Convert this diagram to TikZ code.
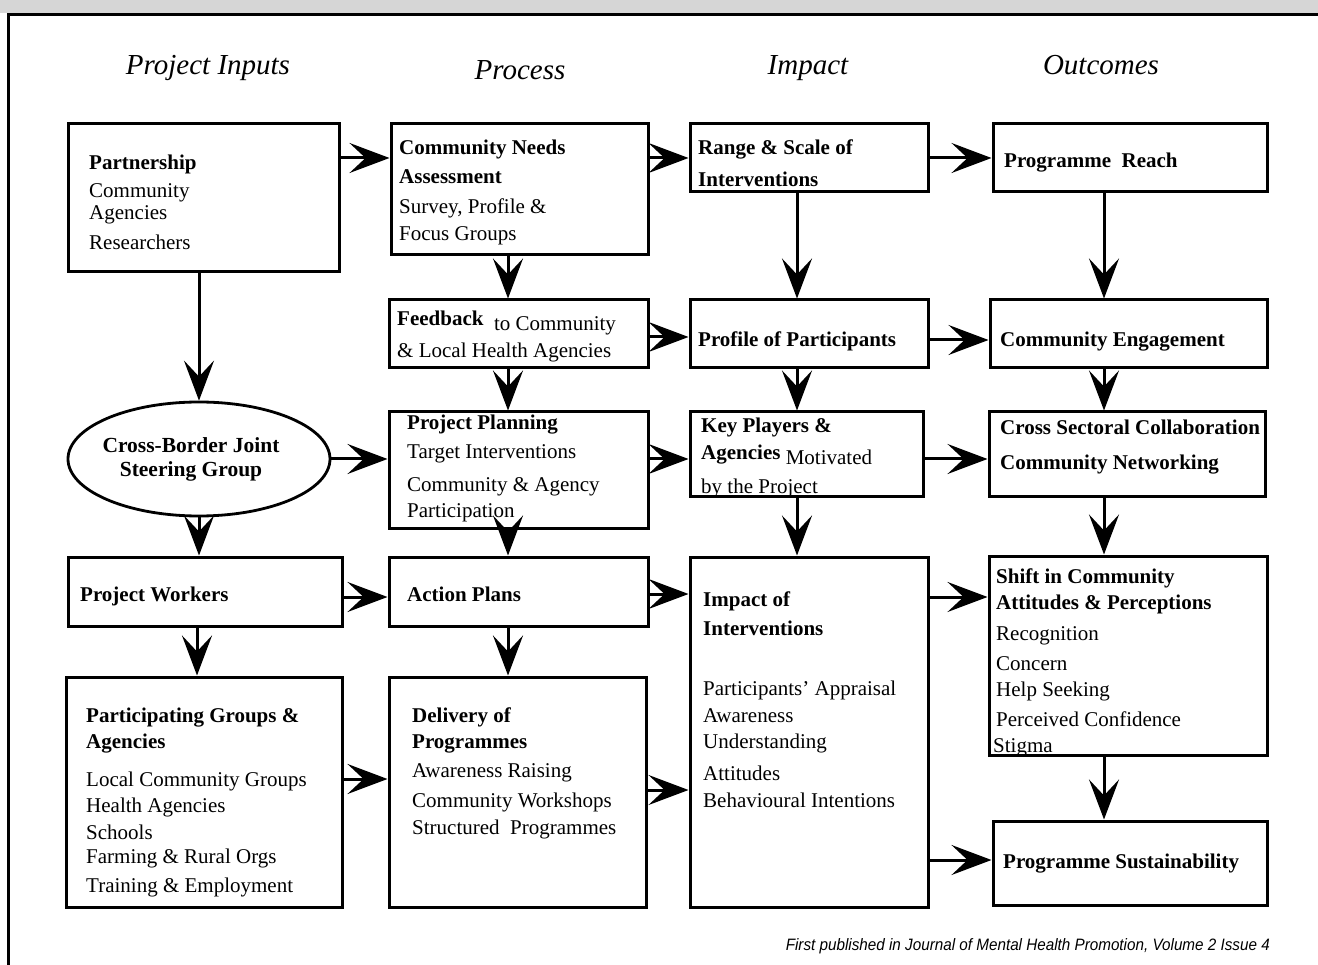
\documentclass[tikz,border=0pt]{standalone}
\usepackage{fontspec}
\setmainfont{Liberation Serif}
\newfontfamily\footfont{Liberation Sans}
\usepackage{graphicx}
\usetikzlibrary{arrows.meta,shapes.geometric}
\newcommand\tb[1]{\begin{tabular}[t]{@{}l@{}}#1\end{tabular}}
\newcommand\mybox[5]{\node[box, minimum width={#4-#2}, minimum height={#5-#3}] (#1) at ({(#2+#4)/2},{(#3+#5)/2}) {};}
\tikzset{
  box/.style={draw, rectangle, line width=3pt, fill=white, inner sep=0pt},
  txt/.style={anchor=base west, inner sep=0pt, font=\fontsize{21}{22}\selectfont},
  hdr/.style={anchor=base, inner sep=0pt, font=\fontsize{29}{30}\selectfont\itshape},
  arr/.style={line width=3pt, -{Stealth[length=40pt,width=30pt,inset=16pt]}},
}
\begin{document}
\begin{tikzpicture}[x=1pt,y=-1pt]
\useasboundingbox (0,0) rectangle (1318,965);
\fill[fill={rgb,255:red,214;green,214;blue,214}] (0,0) rectangle (1318,13);
\draw[line width=3pt] (7,15) -- (1318,15);
\draw[line width=2.5pt] (8.5,14) -- (8.5,965);

% headers
\node[hdr] (h1) at (208,75) {Project Inputs};
\node[hdr] (h2) at (520,80) {Process};
\node[hdr] (h3) at (808,75) {Impact};
\node[hdr] (h4) at (1101,75) {Outcomes};

% column 1
\mybox{pa}{68}{124}{339}{272}
\node[txt] (pat) at (89,170) {\tb{\textbf{Partnership}\\[6pt] Community\\ Agencies\\[8pt] Researchers}};
\node[draw, ellipse, line width=2.8pt, fill=white, minimum width=262, minimum height=114, inner sep=0pt] (sg) at (199,459) {};
\node[inner sep=0pt, align=center, font=\fontsize{21.5}{24}\selectfont\bfseries] (sgt) at (191,459) {Cross-Border Joint\\Steering Group};
\mybox{pw}{68}{557}{342}{626}
\node[txt] (pwt) at (80,601) {\textbf{Project Workers}};
\mybox{pg}{66}{677}{342}{907}
\node[txt] (pgt) at (86,722) {\tb{\textbf{Participating Groups \&}\\[4pt] \textbf{Agencies}\\[16pt] Local Community Groups\\[4pt] Health Agencies\\[5pt] Schools\\[2pt] Farming \& Rural Orgs\\[7pt] Training \& Employment}};

% column 2
\mybox{cna}{391}{124}{648}{255}
\node[txt] (cnat) at (399,155) {\tb{\textbf{Community Needs}\\[7pt] \textbf{Assessment}\\[8pt] Survey, Profile \&\\[5pt] Focus Groups}};
\mybox{fb}{389}{300}{648}{368}
\node[txt] (fbt) at (397,326) {\tb{\textbf{Feedback}\ \ \raisebox{-5pt}[0pt][0pt]{to Community}\\[10pt] \& Local Health Agencies}};
\mybox{pp}{389}{412}{648}{528}
\node[txt] (ppt) at (407,430) {\tb{\textbf{Project Planning}\\[7pt] Target Interventions\\[11pt] Community \& Agency\\[4pt] Participation}};
\mybox{ap}{389}{557}{648}{626}
\node[txt] (apt) at (407,601) {\textbf{Action Plans}};
\mybox{dp}{389}{677}{646}{907}
\node[txt] (dpt) at (412,722) {\tb{\textbf{Delivery of}\\[4pt] \textbf{Programmes}\\[7pt] Awareness Raising\\[8pt] Community Workshops\\[5pt] Structured\ \ Programmes}};

% column 3
\mybox{rs}{690}{124}{928}{192}
\node[txt] (rst) at (698,155) {\tb{\textbf{Range \& Scale of}\\[10pt] \textbf{Interventions}}};
\mybox{pr}{690}{300}{928}{368}
\node[txt] (prt) at (698,347) {\textbf{Profile of Participants}};
\mybox{kp}{690}{412}{923}{497}
\node[txt] (kpt) at (701,433) {\tb{\textbf{Key Players \&}\\[5pt] \textbf{Agencies}\ \raisebox{-5pt}[0pt][0pt]{Motivated}\\[12pt] by the Project}};
\mybox{ii}{690}{557}{928}{907}
\node[txt] (iit) at (703,606) {\tb{\textbf{Impact of}\\[7pt] \textbf{Interventions}\\[38pt] Participants' Appraisal\\[5pt] Awareness\\[4pt] Understanding\\[10pt] Attitudes\\[5pt] Behavioural Intentions}};

% column 4
\mybox{prc}{993}{124}{1267}{192}
\node[txt] (prct) at (1004,168) {\textbf{Programme\ \ Reach}};
\mybox{ce}{990}{300}{1267}{368}
\node[txt] (cet) at (1000,347) {\textbf{Community Engagement}};
\mybox{cs}{989}{412}{1265}{497}
\node[txt] (cst) at (1000,435) {\tb{\textbf{Cross Sectoral Collaboration}\\[13pt] \textbf{Community Networking}}};
\mybox{sh}{989}{556}{1267}{755}
\node[txt] (sht) at (996,583) {\tb{\textbf{Shift in Community}\\[4pt] \textbf{Attitudes \& Perceptions}\\[10pt] Recognition\\[7pt] Concern\\[5pt] Help Seeking\\[7pt] Perceived Confidence\\[5pt] \hspace{-3pt}Stigma}};
\mybox{su}{993}{821}{1267}{905}
\node[txt] (sut) at (1003,868) {\textbf{Programme Sustainability}};

% arrows
\draw[arr] (pa.east |- 0,158) -- (cna.west |- 0,158);
\draw[arr] (pa.south -| sg.north) -- (sg.north);
\draw[arr] (sg.east) -- (pp.west |- sg.east);
\draw[arr] (sg.south) -- (pw.north -| sg.south);
\draw[arr] (pw.east |- 0,597) -- (ap.west |- 0,597);
\draw[arr] (pw.south -| 197,0) -- (pg.north -| 197,0);
\draw[arr] (pg.east |- 0,779) -- (dp.west |- 0,779);
\draw[arr] (cna.south -| 508,0) -- (fb.north -| 508,0);
\draw[arr] (fb.south -| 508,0) -- (pp.north -| 508,0);
\draw[arr] (pp.south -| 508,0) -- (ap.north -| 508,0);
\draw[arr] (ap.south -| 508,0) -- (dp.north -| 508,0);
\draw[arr] (cna.east |- 0,158) -- (rs.west |- 0,158);
\draw[arr] (fb.east |- 0,337) -- (pr.west |- 0,337);
\draw[arr] (pp.east |- 0,459) -- (kp.west |- 0,459);
\draw[arr] (ap.east |- 0,594) -- (ii.west |- 0,594);
\draw[arr] (dp.east |- 0,790) -- (ii.west |- 0,790);
\draw[arr] (rs.south -| 797,0) -- (pr.north -| 797,0);
\draw[arr] (pr.south -| 797,0) -- (kp.north -| 797,0);
\draw[arr] (kp.south -| 797,0) -- (ii.north -| 797,0);
\draw[arr] (rs.east |- 0,158) -- (prc.west |- 0,158);
\draw[arr] (pr.east |- 0,340) -- (ce.west |- 0,340);
\draw[arr] (kp.east |- 0,459) -- (cs.west |- 0,459);
\draw[arr] (ii.east |- 0,597) -- (sh.west |- 0,597);
\draw[arr] (ii.east |- 0,860) -- (su.west |- 0,860);
\draw[arr] (prc.south -| 1104,0) -- (ce.north -| 1104,0);
\draw[arr] (ce.south -| 1104,0) -- (cs.north -| 1104,0);
\draw[arr] (cs.south -| 1104,0) -- (sh.north -| 1104,0);
\draw[arr] (sh.south -| 1104,0) -- (su.north -| 1104,0);

% footer
\node[anchor=base east, inner sep=0pt, font=\footfont\itshape\fontsize{16.5}{18}\selectfont] (ft) at (1270,950) {\resizebox{484pt}{\height}{First published in Journal of Mental Health Promotion, Volume 2 Issue 4}};
\end{tikzpicture}
\end{document}
